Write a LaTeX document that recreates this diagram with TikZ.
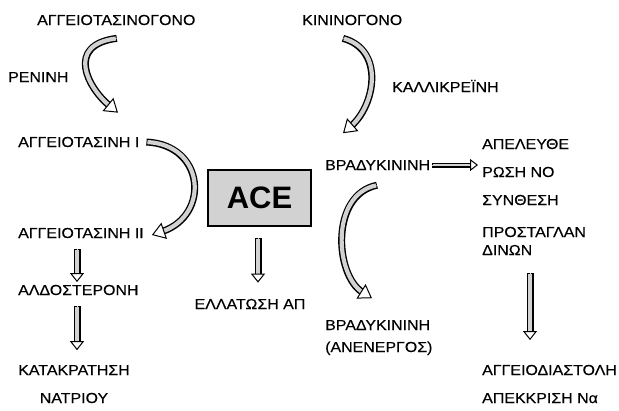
\documentclass[tikz,border=0pt]{standalone}
\usepackage{fontspec}
\setmainfont{Liberation Sans}[FakeStretch=1.1,FakeBold=0.3]
\newfontfamily\acefont{Liberation Sans}
\usetikzlibrary{arrows.meta}

\begin{document}
\begin{tikzpicture}[x=1pt,y=-1pt,
  lbl/.style={inner sep=0pt,anchor=base west,font=\fontsize{14.5}{17}\selectfont},
  ctr/.style={lbl,anchor=base},
  hollow/.style n args={4}{draw=gray!35,line width=0.4pt,
    preaction={draw=black,-,line width=#1,shorten >=#4-1.5pt},
    preaction={draw=gray!35,-,line width=#2,shorten >=#4-2pt,shorten <=1pt},
    -{Triangle[width=#3,length=#4,fill=white,color=black,line width=1pt]}},
  bendarrow/.style={hollow={7pt}{4.2pt}{17pt}{13pt}},
  downarrow/.style={hollow={7pt}{4.4pt}{14pt}{9pt}},
  sidearrow/.style={hollow={5pt}{2.6pt}{12pt}{8pt}}]
\useasboundingbox (0,0) rectangle (619,410);

% left column
\node[lbl] (ango) at (37,25) {ΑΓΓΕΙΟΤΑΣΙΝΟΓΟΝΟ};
\node[lbl] (renin) at (8,82) {ΡΕΝΙΝΗ};
\node[lbl] (angI) at (18,147) {ΑΓΓΕΙΟΤΑΣΙΝΗ Ι};
\node[lbl] (angII) at (18,238) {ΑΓΓΕΙΟΤΑΣΙΝΗ ΙΙ};
\node[lbl] (aldo) at (18,295) {ΑΛΔΟΣΤΕΡΟΝΗ};
\node[ctr] (kata) at (74,375) {ΚΑΤΑΚΡΑΤΗΣΗ};
\node[ctr] (natr) at (74,403) {ΝΑΤΡΙΟΥ};

% middle
\node[draw,line width=2pt,fill=gray!35,minimum width=103pt,minimum height=56pt,inner sep=0pt,
  font=\acefont\bfseries\fontsize{31}{31}\selectfont] (ace) at (259.5,198) {ACE};
\node[ctr] (ella) at (250,309) {ΕΛΛΑΤΩΣΗ ΑΠ};

% kinin side
\node[lbl] (kino) at (302,25) {ΚΙΝΙΝΟΓΟΝΟ};
\node[lbl] (kalli) at (392,92) {ΚΑΛΛΙΚΡΕΪΝΗ};
\node[lbl] (brady) at (325,170) {ΒΡΑΔΥΚΙΝΙΝΗ};
\node[lbl] (brady2) at (325,330) {ΒΡΑΔΥΚΙΝΙΝΗ};
\node[lbl] (anen) at (325,352) {(ΑΝΕΝΕΡΓΟΣ)};

% right column
\node[lbl] (apel) at (482,149) {ΑΠΕΛΕΥΘΕ};
\node[lbl] (rosi) at (482,177) {ΡΩΣΗ NO};
\node[lbl] (synth) at (482,205) {ΣΥΝΘΕΣΗ};
\node[lbl] (prost) at (482,237) {ΠΡΟΣΤΑΓΛΑΝ};
\node[lbl] (dinon) at (482,255) {ΔΙΝΩΝ};
\node[lbl] (angdia) at (482,375) {ΑΓΓΕΙΟΔΙΑΣΤΟΛΗ};
\node[lbl] (apekk) at (482,403) {ΑΠΕΚΚΡΙΣΗ Να};

% curved arrows
\draw[bendarrow] ([shift={(0.5pt,-13pt)}]ango.south) .. controls (65,45) and (88,88) .. ([shift={(100pt,24pt)}]angI.north west);
\draw[bendarrow] ([shift={(7pt,0pt)}]angI.east) .. controls (205,145) and (210,215) .. ([shift={(8pt,-2pt)}]angII.east);
\draw[bendarrow] ([shift={(41pt,-13pt)}]kino.south west) .. controls (385,50) and (375,105) .. ([shift={(18pt,26.6pt)}]brady.north west);
\draw[bendarrow] ([shift={(52pt,-15pt)}]brady.south west) .. controls (330,195) and (335,275) .. ([shift={(47pt,21.6pt)}]brady2.north west);

% straight arrows
\draw[sidearrow] ([xshift=2pt]brady.east) -- ([xshift=-4pt]brady.east -| rosi.west);
\draw[downarrow] ([shift={(59pt,-11pt)}]angII.south west) -- ([shift={(59pt,2.6pt)}]aldo.north west);
\draw[downarrow] ([shift={(59pt,-11pt)}]aldo.south west) -- ([shift={(3pt,14.6pt)}]kata.north);
\draw[downarrow] ([shift={(-1.5pt,-11pt)}]ace.south) -- ([shift={(8pt,16pt)}]ella.north);
\draw[downarrow] ([shift={(48pt,-18pt)}]dinon.south west) -- ([shift={(48pt,24.6pt)}]angdia.north west);
\end{tikzpicture}
\end{document}
